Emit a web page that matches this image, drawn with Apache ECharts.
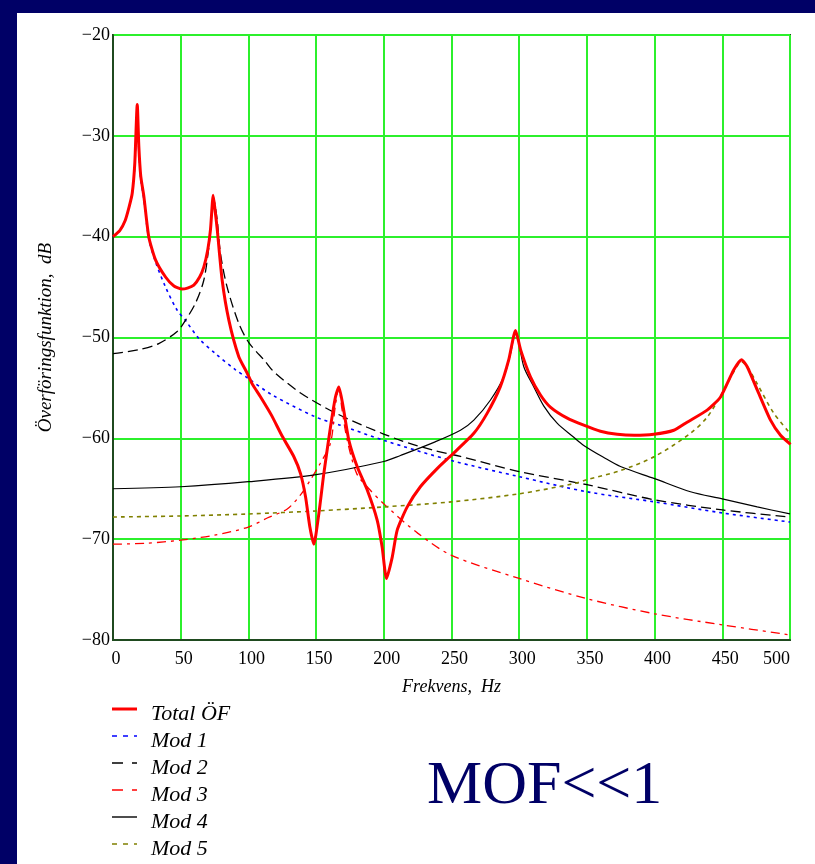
<!DOCTYPE html>
<html><head><meta charset="utf-8">
<script src="https://cdn.jsdelivr.net/npm/echarts@6/dist/echarts.min.js"></script>
<style>html,body{margin:0;padding:0;background:#fff}#c{width:815px;height:864px}</style>
</head><body><div id="c"></div>
<script>
// ---- data ----
const xTicks = [0,50,100,150,200,250,300,350,400,450,500];
const yTicks = [-20,-30,-40,-50,-60,-70,-80];
const seriesNames = ['Total ÖF','Mod 1','Mod 2','Mod 3','Mod 4','Mod 5'];

const totalF  = [0,5,9,12,14.2,16.1,17.9,19.1,20.5,22.8,26.4,31.4,38.8,45,51,55,59.7,64,67.1,70,72,74,75.5,77,80.6,85.6,92.9,99,102.8,109,117,125,133.5,138.5,142.2,145.4,148.3,152,155.7,160.6,164.3,166.8,170,174.2,180.3,187.7,195.1,198.8,202,206.2,209.9,217.3,227,239.4,250.5,266.5,276.4,286,292.3,297.3,301,308.3,315.7,323,335.5,347.7,360,372.4,385,399.4,414.2,424,438.8,448.7,458.5,464.2,468.4,475.8,485.6,493,500.4];
const totalDb = [-40,-39.4,-38.4,-37,-35.7,-32.7,-26.9,-31.1,-34,-36,-40,-42.3,-44,-44.9,-45.2,-45.1,-44.8,-44,-43,-41.3,-39.3,-35.9,-37.5,-39.3,-44.3,-48.3,-51.9,-53.5,-54.6,-55.9,-57.7,-59.8,-61.8,-63.5,-65.8,-68.8,-70.5,-67.5,-63.5,-58.9,-55.9,-54.9,-56.9,-60.2,-62.8,-65.1,-68.1,-70.8,-73.9,-71.8,-69.1,-66.8,-64.8,-63,-61.6,-59.5,-57.5,-54.9,-52.2,-49.3,-51.2,-53.9,-55.7,-56.9,-58,-58.7,-59.3,-59.6,-59.7,-59.6,-59.2,-58.4,-57.2,-55.9,-53.2,-52.2,-52.9,-55.2,-58.2,-59.7,-60.6];

const mod1F  = [0,5,9,12,14.2,16.1,17.9,19.1,20.5,22.8,26.4,31.4,38.8,47.4,53.5,63.4,75.7,90.5,100.3,117.6,150,168,200,250,300,350,400,450,500];
const mod1Db = [-40,-39.4,-38.4,-37,-35.7,-32.9,-27.8,-31.5,-34.3,-36.3,-40.2,-42.5,-45,-47.3,-48.3,-50.1,-51.6,-53.2,-54.1,-55.7,-57.9,-58.7,-60.2,-62.2,-63.8,-65.3,-66.3,-67.4,-68.3];

const mod2F  = [0,19.1,33.8,47.4,53.5,60.9,67.1,70.8,72.5,74,75.5,77,79.4,84.3,92.9,100.3,112.6,118.8,138.5,163,187.7,212.3,237,256.6,300,350,400,450,500];
const mod2Db = [-51.6,-51.2,-50.6,-49.4,-48.3,-46.6,-44.3,-41,-38.5,-36,-37,-38.4,-41.7,-45,-48.6,-50.5,-52.4,-53.4,-55.5,-57.4,-58.9,-60.2,-61.2,-61.8,-63.3,-64.6,-66.1,-67.1,-67.8];

const mod3F  = [0,25,50,75,100,113.9,128.7,138.5,145.9,153,160.6,164,166.8,169,173,180,187.7,200,225,250,300,350,400,450,500];
const mod3Db = [-70.5,-70.4,-70.1,-69.6,-68.8,-67.9,-67,-65.6,-64.1,-62.5,-60.5,-57,-55,-57,-60.2,-63.5,-64.8,-66.5,-69.4,-71.6,-73.9,-75.9,-77.4,-78.5,-79.5];

const mod4F  = [0,50,100,150,200,212.3,237,256.6,266.5,278.8,288.6,293.6,297.3,303.4,310.8,318.2,328,340.3,347.7,362.5,374.8,400,426.5,450,475.8,500];
const mod4Db = [-65,-64.8,-64.3,-63.6,-62.3,-61.7,-60.4,-59.2,-58.2,-56.2,-53.9,-51.6,-49.4,-52.9,-54.9,-56.8,-58.5,-59.9,-60.7,-61.9,-62.8,-64,-65.3,-66,-66.8,-67.5];

const mod5F  = [0,50,100,150,200,250,300,340,350,374.8,400,426.5,438.8,450,458,464.2,469,475.8,488,500];
const mod5Db = [-67.8,-67.7,-67.5,-67.2,-66.8,-66.3,-65.5,-64.5,-64.1,-63.2,-61.8,-59.5,-57.9,-55.5,-53.5,-52.4,-53,-54.6,-57.5,-59.5];

// ---- chart ----
const zip = (f, v) => f.map((x, i) => [x, v[i]]);
const serif = '"Liberation Serif","Times New Roman",serif';
const minus = s => String(s).replace('-', '\u2212');

const styles = [
  {color:'#ff0000', width:3, type:'solid', z:10, smooth:0.2, legendDash:null, legendW:3},
  {color:'#0000ff', width:1.6, type:[3,4], z:3, smooth:0.3, legendDash:[5,6], legendW:1.6},
  {color:'#000000', width:1.3, type:[10,5], z:3, smooth:0.3, legendDash:[11,9], legendW:1.6},
  {color:'#ff0000', width:1.3, type:[9,5,3,5], z:3, smooth:0.3, legendDash:[11,9], legendW:1.6},
  {color:'#000000', width:1.2, type:'solid', z:3, smooth:0.3, legendDash:null, legendW:1.4},
  {color:'#808000', width:1.6, type:[4,4], z:3, smooth:0.3, legendDash:[5,6], legendW:1.6}
];
const datas = [zip(totalF,totalDb), zip(mod1F,mod1Db), zip(mod2F,mod2Db), zip(mod3F,mod3Db), zip(mod4F,mod4Db), zip(mod5F,mod5Db)];

// legend drawn as graphic (not data)
const legendGraphics = [];
seriesNames.forEach((n, i) => {
  const cy = 714 + i * 27;
  legendGraphics.push({type:'line', shape:{x1:112, y1:cy - 5, x2:137, y2:cy - 5},
    style:{stroke:styles[i].color, lineWidth:styles[i].legendW, lineDash:styles[i].legendDash}});
  legendGraphics.push({type:'text', x:151, y:cy,
    style:{text:n, font:'italic 22px ' + serif, fill:'#000', verticalAlign:'middle', align:'left'}});
});

const chart = echarts.init(document.getElementById('c'), null, {renderer:'canvas'});
chart.setOption({
  backgroundColor:'#ffffff',
  animation:false,
  grid:{left:113, right:25, top:35, bottom:224, show:true, borderColor:'#1f4a1f', borderWidth:2, backgroundColor:'transparent'},
  xAxis:{
    type:'value', min:xTicks[0], max:xTicks[xTicks.length-1], interval:50,
    name:'Frekvens,  Hz', nameLocation:'middle', nameGap:38,
    nameTextStyle:{fontFamily:serif, fontStyle:'italic', fontSize:18, color:'#000'},
    axisLine:{show:true, lineStyle:{color:'#1f4a1f', width:2}},
    axisTick:{show:false},
    axisLabel:{fontFamily:serif, fontSize:18, color:'#000', margin:10, padding:[0,0,0,6], alignMaxLabel:'right',
      formatter:v => xTicks.includes(v) ? minus(v) : ''},
    splitLine:{show:true, lineStyle:{color:'#2cf02c', width:2}}
  },
  yAxis:{
    type:'value', min:yTicks[yTicks.length-1], max:yTicks[0], interval:10,
    name:'Överföringsfunktion,  dB', nameLocation:'middle', nameGap:58, nameRotate:90,
    nameTextStyle:{fontFamily:serif, fontStyle:'italic', fontSize:19, color:'#000'},
    axisLine:{show:true, lineStyle:{color:'#1f4a1f', width:2}},
    axisTick:{show:false},
    axisLabel:{fontFamily:serif, fontSize:18, color:'#000', margin:3,
      formatter:v => yTicks.includes(v) ? minus(v) : ''},
    splitLine:{show:true, lineStyle:{color:'#2cf02c', width:2}}
  },
  series: seriesNames.map((n, i) => ({
    name:n, type:'line', data:datas[i], symbol:'none', showSymbol:false, smooth:styles[i].smooth,
    z:styles[i].z,
    lineStyle:{color:styles[i].color, width:styles[i].width, type:styles[i].type},
    itemStyle:{color:styles[i].color}
  })),
  graphic:[
    {type:'rect', left:0, top:0, shape:{width:17, height:864}, style:{fill:'#000066'}},
    {type:'rect', left:0, top:0, shape:{width:815, height:13}, style:{fill:'#000066'}},
    {type:'text', left:427, top:756, style:{text:'MOF<<1', font:'62px "Liberation Serif","Times New Roman",serif', fill:'#000066'}}
  ].concat(legendGraphics)
});
</script></body></html>
